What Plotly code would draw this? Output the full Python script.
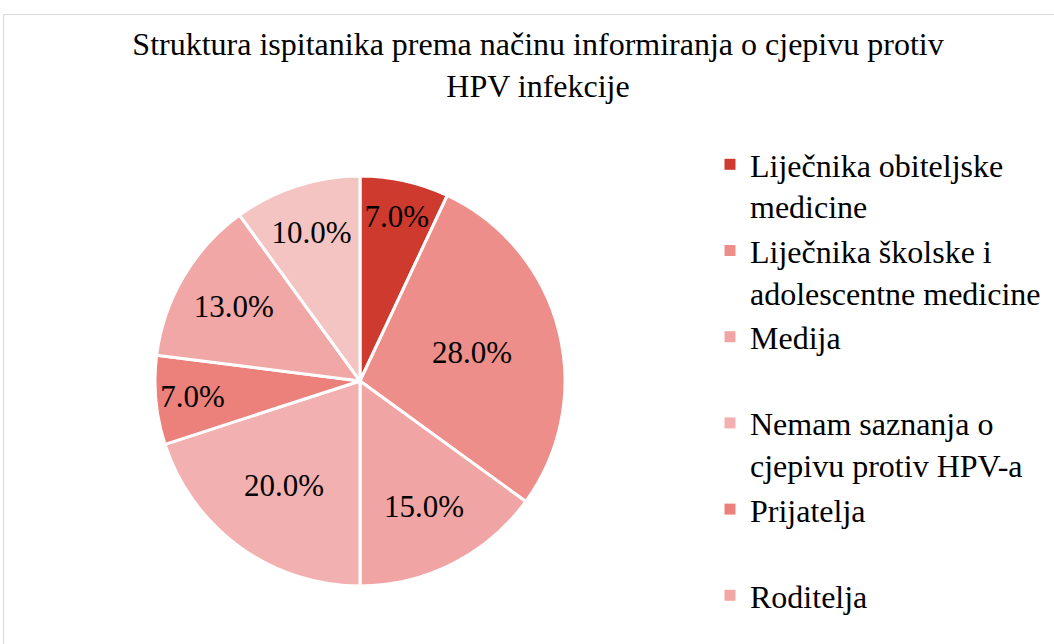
import plotly.graph_objects as go

categories = [
    "Liječnika obiteljske medicine",
    "Liječnika školske i adolescentne medicine",
    "Medija",
    "Nemam saznanja o cjepivu protiv HPV-a",
    "Prijatelja",
    "Roditelja",
    "Škole",
]
legend_text = [
    "Liječnika obiteljske<br>medicine",
    "Liječnika školske i<br>adolescentne medicine",
    "Medija<br> ",
    "Nemam saznanja o<br>cjepivu protiv HPV-a",
    "Prijatelja<br> ",
    "Roditelja",
    "Škole",
]
values = [7.0, 28.0, 15.0, 20.0, 7.0, 13.0, 10.0]
colors = ["#CF3A2F", "#EE8E8A", "#F0A5A4", "#F2B1B0", "#EC807B", "#F0A7A5", "#F4C4C3"]
# the reference legend is cut off by the image edge after the sixth entry
legend_visible = [True, True, True, True, True, True, False]

FONT = "Liberation Serif, Times New Roman, serif"
W, H = 1054, 644

fig = go.Figure()
fig.add_trace(go.Pie(
    labels=categories,
    values=values,
    sort=False,
    direction="clockwise",
    rotation=0,
    marker=dict(colors=colors, line=dict(color="white", width=3)),
    texttemplate="%{percent:.1%}",
    textposition="inside",
    insidetextorientation="horizontal",
    textfont=dict(family=FONT, size=31, color="black"),
    hovertemplate="%{label}: %{value}%<extra></extra>",
    domain=dict(x=[155 / W, 565 / W], y=[1 - 586 / H, 1 - 176 / H]),
    showlegend=False,
))
for name, col, show in zip(legend_text, colors, legend_visible):
    fig.add_trace(go.Scatter(
        x=[None], y=[None], mode="markers", name=name,
        marker=dict(symbol="square", size=11, color=col),
        showlegend=show, hoverinfo="skip",
    ))

fig.update_layout(
    width=W, height=H,
    margin=dict(l=0, r=0, t=0, b=0),
    paper_bgcolor="white",
    plot_bgcolor="white",
    xaxis=dict(visible=False),
    yaxis=dict(visible=False),
    title=dict(
        text="Struktura ispitanika prema načinu informiranja o cjepivu protiv<br>HPV infekcije",
        x=538 / W, xanchor="center",
        y=1 - 55 / H, yanchor="middle",
        font=dict(family=FONT, size=32, color="black"),
    ),
    legend=dict(
        x=710 / W, xanchor="left",
        y=1 - 137 / H, yanchor="top",
        font=dict(family=FONT, size=32, color="black"),
        valign="top",
        itemwidth=30,
        traceorder="normal",
        bgcolor="rgba(0,0,0,0)",
    ),
    shapes=[dict(
        type="rect", xref="paper", yref="paper",
        x0=3.5 / W, x1=1.02, y0=-0.02, y1=1 - 14.5 / H,
        line=dict(color="#D9D9D9", width=1), fillcolor="rgba(0,0,0,0)",
        layer="below",
    )],
)

fig.write_html(
    "out.html",
    config={"displayModeBar": False},
    post_script="document.body.style.margin='0';",
)
